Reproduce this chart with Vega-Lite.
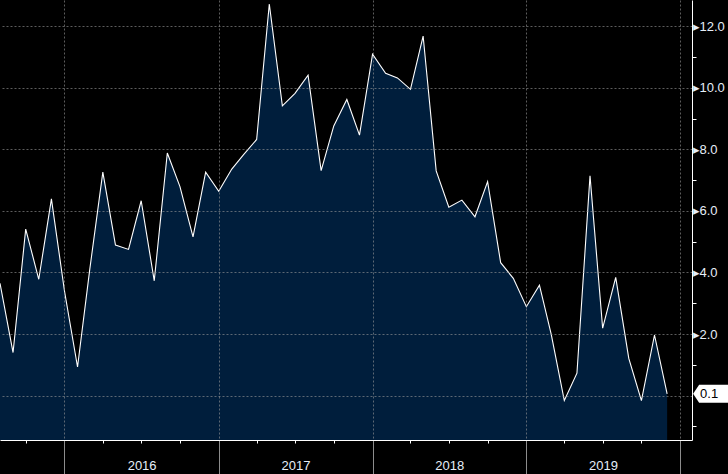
{
  "$schema": "https://vega.github.io/schema/vega-lite/v6.json",
  "width": 692,
  "height": 440,
  "autosize": {"type": "none"},
  "padding": {"left": 0, "top": 0, "right": 36, "bottom": 34},
  "background": "#000000",
  "config": {
    "view": {"stroke": null},
    "axis": {"labelFont": "Liberation Sans", "labelFontSize": 13, "labelColor": "#e6eef8", "title": null}
  },
  "data": {
    "values": [
      {"date": "2015-08-01", "value": 3.65},
      {"date": "2015-09-01", "value": 1.40},
      {"date": "2015-10-01", "value": 5.41},
      {"date": "2015-11-01", "value": 3.78},
      {"date": "2015-12-01", "value": 6.39},
      {"date": "2016-01-01", "value": 3.40},
      {"date": "2016-02-01", "value": 0.93},
      {"date": "2016-03-01", "value": 4.10},
      {"date": "2016-04-01", "value": 7.26},
      {"date": "2016-05-01", "value": 4.89},
      {"date": "2016-06-01", "value": 4.75},
      {"date": "2016-07-01", "value": 6.33},
      {"date": "2016-08-01", "value": 3.73},
      {"date": "2016-09-01", "value": 7.88},
      {"date": "2016-10-01", "value": 6.79},
      {"date": "2016-11-01", "value": 5.16},
      {"date": "2016-12-01", "value": 7.26},
      {"date": "2017-01-01", "value": 6.64},
      {"date": "2017-02-01", "value": 7.36},
      {"date": "2017-03-01", "value": 7.83},
      {"date": "2017-04-01", "value": 8.32},
      {"date": "2017-05-01", "value": 12.72},
      {"date": "2017-06-01", "value": 9.41},
      {"date": "2017-07-01", "value": 9.82},
      {"date": "2017-08-01", "value": 10.41},
      {"date": "2017-09-01", "value": 7.31},
      {"date": "2017-10-01", "value": 8.76},
      {"date": "2017-11-01", "value": 9.62},
      {"date": "2017-12-01", "value": 8.46},
      {"date": "2018-01-01", "value": 11.09},
      {"date": "2018-02-01", "value": 10.47},
      {"date": "2018-03-01", "value": 10.32},
      {"date": "2018-04-01", "value": 9.95},
      {"date": "2018-05-01", "value": 11.68},
      {"date": "2018-06-01", "value": 7.30},
      {"date": "2018-07-01", "value": 6.12},
      {"date": "2018-08-01", "value": 6.35},
      {"date": "2018-09-01", "value": 5.81},
      {"date": "2018-10-01", "value": 6.95},
      {"date": "2018-11-01", "value": 4.32},
      {"date": "2018-12-01", "value": 3.81},
      {"date": "2019-01-01", "value": 2.89},
      {"date": "2019-02-01", "value": 3.59},
      {"date": "2019-03-01", "value": 1.99},
      {"date": "2019-04-01", "value": -0.16},
      {"date": "2019-05-01", "value": 0.73},
      {"date": "2019-06-01", "value": 7.14},
      {"date": "2019-07-01", "value": 2.19},
      {"date": "2019-08-01", "value": 3.84},
      {"date": "2019-09-01", "value": 1.21},
      {"date": "2019-10-01", "value": -0.16},
      {"date": "2019-11-01", "value": 1.97},
      {"date": "2019-12-01", "value": 0.06}
    ]
  },
  "resolve": {"axis": {"x": "independent"}},
  "encoding": {
    "y": {
      "field": "value", "type": "quantitative",
      "scale": {"domain": [-1.44, 12.85], "nice": false, "zero": false},
      "axis": {
        "orient": "right", "zindex": 1, "title": null,
        "values": [-1, 0, 1, 2, 3, 4, 5, 6, 7, 8, 9, 10, 11, 12],
        "grid": true, "gridColor": "#9a9a9a", "gridDash": [2, 2], "gridWidth": 1,
        "gridOpacity": {"condition": {"test": "datum.value >= 0 && datum.value % 2 == 0", "value": 0.6}, "value": 0},
        "ticks": true, "tickSize": 4, "tickColor": "#ffffff", "tickWidth": 1,
        "tickOpacity": {"condition": {"test": "datum.value % 2 == 0", "value": 0}, "value": 1},
        "labelExpr": "(datum.value % 2 == 0 && datum.value >= 2) ? '▸' + format(datum.value, '.1f') : ''",
        "labelPadding": -4, "labelAlign": "left", "labelBaseline": "middle",
        "domain": true, "domainColor": "#ffffff", "domainWidth": 1
      }
    }
  },
  "layer": [
    {
      "mark": {"type": "area", "color": "#001e3c", "opacity": 1, "line": {"color": "#ffffff", "strokeWidth": 1.1}},
      "encoding": {
        "x": {
          "field": "date", "type": "temporal",
          "scale": {"type": "utc", "domain": [{"year": 2015, "month": 8, "date": 1, "utc": true}, {"year": 2020, "month": 1, "date": 29, "utc": true}]},
          "axis": {
            "orient": "bottom", "zindex": 1, "title": null,
            "values": [
              {"year": 2016, "month": 1, "date": 1, "utc": true},
              {"year": 2017, "month": 1, "date": 1, "utc": true},
              {"year": 2018, "month": 1, "date": 1, "utc": true},
              {"year": 2019, "month": 1, "date": 1, "utc": true},
              {"year": 2020, "month": 1, "date": 1, "utc": true}
            ],
            "grid": true, "gridColor": "#9a9a9a", "gridOpacity": 0.6, "gridDash": [2, 2], "gridWidth": 1,
            "ticks": true, "tickSize": 34, "tickColor": "#8c8c8c", "tickWidth": 1,
            "labels": false,
            "domain": true, "domainColor": "#ffffff", "domainWidth": 1
          }
        },
        "y2": {"datum": -1.44}
      }
    },
    {
      "transform": [{"filter": "utcyear(datum.date) == 2019 && utcmonth(datum.date) == 11"}],
      "mark": {"type": "point", "shape": "M2.6,0 L3.2,-0.9 L6.6,-0.9 L6.6,0.9 L3.2,0.9 Z", "size": 400, "filled": true, "color": "#ffffff", "opacity": 1, "strokeWidth": 0},
      "encoding": {
        "x": {
          "field": "date", "type": "temporal",
          "axis": {
            "orient": "bottom", "title": null,
            "values": [
              {"year": 2015, "month": 10, "date": 1, "utc": true},
              {"year": 2016, "month": 4, "date": 1, "utc": true},
              {"year": 2016, "month": 7, "date": 1, "utc": true},
              {"year": 2016, "month": 10, "date": 1, "utc": true},
              {"year": 2017, "month": 4, "date": 1, "utc": true},
              {"year": 2017, "month": 7, "date": 1, "utc": true},
              {"year": 2017, "month": 10, "date": 1, "utc": true},
              {"year": 2018, "month": 4, "date": 1, "utc": true},
              {"year": 2018, "month": 7, "date": 1, "utc": true},
              {"year": 2018, "month": 10, "date": 1, "utc": true},
              {"year": 2019, "month": 4, "date": 1, "utc": true},
              {"year": 2019, "month": 7, "date": 1, "utc": true},
              {"year": 2019, "month": 10, "date": 1, "utc": true}
            ],
            "grid": false, "domain": false, "labels": false,
            "ticks": true, "tickSize": 3, "tickColor": "#ffffff", "tickWidth": 1
          }
        }
      }
    },
    {
      "transform": [{"filter": "utcyear(datum.date) == 2019 && utcmonth(datum.date) == 11"}],
      "mark": {"type": "text", "font": "Liberation Sans", "fontSize": 13, "color": "#000000", "dx": 42, "align": "center", "baseline": "middle"},
      "encoding": {
        "x": {
          "field": "date", "type": "temporal",
          "axis": {
            "orient": "bottom", "title": null,
            "values": [
              {"year": 2016, "month": 7, "date": 2, "utc": true},
              {"year": 2017, "month": 7, "date": 2, "utc": true},
              {"year": 2018, "month": 7, "date": 2, "utc": true},
              {"year": 2019, "month": 7, "date": 2, "utc": true}
            ],
            "labelExpr": "utcFormat(datum.value, '%Y')",
            "grid": false, "domain": false, "ticks": false, "tickSize": 0,
            "labelPadding": 19, "labelBaseline": "top", "labelAlign": "center"
          }
        },
        "text": {"field": "value", "type": "quantitative", "format": ".1f"}
      }
    }
  ]
}
